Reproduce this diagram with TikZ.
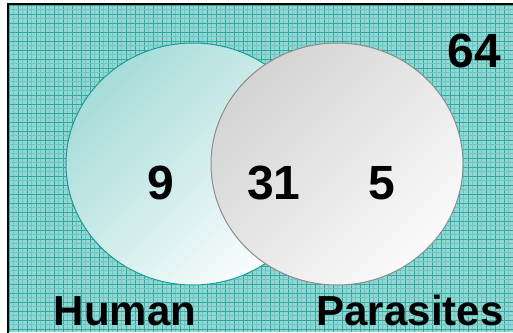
\documentclass[tikz,border=0pt]{standalone}
\usepackage{fontspec}
\setmainfont{Liberation Sans}
\definecolor{bgteal}{HTML}{93D6D2}
\definecolor{gridA}{HTML}{2FAAA5}
\definecolor{gridB}{HTML}{6CC6C1}
\definecolor{tealedge}{HTML}{1A9E9A}
\definecolor{tealfill}{HTML}{A6DCD9}
\definecolor{grayedge}{HTML}{8C8C8C}
\tikzset{
  numlbl/.style={font=\fontsize{48}{48}\selectfont\bfseries, text=black, inner sep=0pt},
  setlbl/.style={font=\fontsize{42}{42}\selectfont\bfseries, text=black, inner sep=0pt, text depth=0pt, anchor=base},
}
\begin{document}
\begin{tikzpicture}[x=1pt,y=-1pt]
\useasboundingbox (0,0) rectangle (513,332);
\fill[white] (0,0) rectangle (513,332);
% patterned background
\begin{scope}
\clip (9,5) rectangle (513,332);
\fill[bgteal] (9,5) rectangle (513,332);
\foreach \i in {0,...,113} {
  \pgfmathsetmacro{\xx}{9+\i*4.5}
  \ifodd\i
    \draw[gridB, line width=0.7pt] (\xx,5) -- (\xx,332);
  \else
    \draw[gridA, line width=0.7pt] (\xx,5) -- (\xx,332);
  \fi
}
\foreach \j in {0,...,73} {
  \pgfmathsetmacro{\yy}{5+\j*4.5}
  \ifodd\j
    \draw[gridB, line width=0.7pt] (9,\yy) -- (513,\yy);
  \else
    \draw[gridA, line width=0.7pt] (9,\yy) -- (513,\yy);
  \fi
}
\end{scope}
\draw[black, line width=2pt] (8,334) -- (8,4) -- (515,4);
% circles
\shade[top color=tealfill, bottom color=white!96!tealfill, shading angle=45]
  (193,164) ellipse [x radius=127, y radius=121];
\draw[tealedge, line width=1pt] (193,164) ellipse [x radius=127, y radius=121];
\shade[top color=black!17, bottom color=black!2, shading angle=45]
  (337,164) ellipse [x radius=126, y radius=121];
\draw[grayedge, line width=1pt] (337,164) ellipse [x radius=126, y radius=121];
% labels
\node[numlbl] (n9) at (161,183) {9};
\node[numlbl] (n31) at (274,183) {31};
\node[numlbl] (n5) at (382,183) {5};
\node[numlbl] (n64) at (474,51) {64};
\node[setlbl] (human) at (125,325) {Human};
\node[setlbl] (para) at (410,325) {Parasites};
\end{tikzpicture}
\end{document}
